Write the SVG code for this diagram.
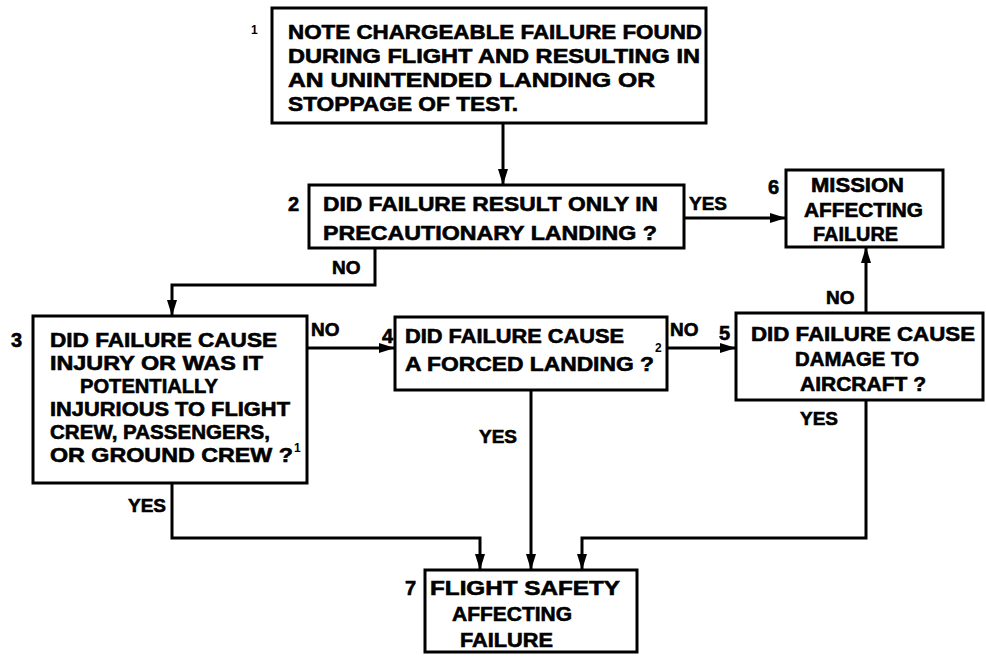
<svg xmlns="http://www.w3.org/2000/svg" width="986" height="657" viewBox="0 0 986 657">
<style>
.box{fill:#fff;stroke:#000;stroke-width:3}
.t{font-family:"Liberation Sans",Arial,sans-serif;font-weight:bold;font-size:20px;fill:#000;stroke:#000;stroke-width:0.6}
.lbl{font-family:"Liberation Sans",Arial,sans-serif;font-weight:bold;font-size:19px;fill:#000;stroke:#000;stroke-width:0.6}
.sup{font-family:"Liberation Sans",Arial,sans-serif;font-weight:bold;font-size:12px;fill:#000}
.c{fill:none;stroke:#000;stroke-width:3}
</style>
<defs>
<marker id="ah" markerUnits="userSpaceOnUse" markerWidth="16" markerHeight="12" refX="15" refY="6" orient="auto">
<path d="M0,1 L16,6 L0,11 z" fill="#000"/>
</marker>
</defs>
<rect width="986" height="657" fill="#fff"/>
<g id="connectors">
<path class="c" d="M503,123 V184" marker-end="url(#ah)"/>
<path class="c" d="M684,218 H785" marker-end="url(#ah)"/>
<path class="c" d="M375,248 V285 H172 V315" marker-end="url(#ah)"/>
<path class="c" d="M307,348 H394" marker-end="url(#ah)"/>
<path class="c" d="M667,348 H735" marker-end="url(#ah)"/>
<path class="c" d="M866,313 V248" marker-end="url(#ah)"/>
<path class="c" d="M172,483 V538 H480 V569" marker-end="url(#ah)"/>
<path class="c" d="M531,390 V569" marker-end="url(#ah)"/>
<path class="c" d="M866,400 V538 H582 V569" marker-end="url(#ah)"/>
<text class="lbl" x="689" y="210">YES</text>
<text class="lbl" x="332" y="274">NO</text>
<text class="lbl" x="311" y="336">NO</text>
<text class="lbl" x="670" y="336">NO</text>
<text class="lbl" x="826" y="304">NO</text>
<text class="lbl" x="479" y="443">YES</text>
<text class="lbl" x="800" y="425">YES</text>
<text class="lbl" x="128" y="512">YES</text>
</g>
<g id="n1">
<rect class="box" x="272" y="8" width="434" height="115"/>
<text class="sup" x="251" y="34">1</text>
<text class="t" x="288" y="39" textLength="414" lengthAdjust="spacingAndGlyphs">NOTE CHARGEABLE FAILURE FOUND</text>
<text class="t" x="288" y="63" textLength="412" lengthAdjust="spacingAndGlyphs">DURING FLIGHT AND RESULTING IN</text>
<text class="t" x="288" y="87" textLength="367" lengthAdjust="spacingAndGlyphs">AN UNINTENDED LANDING OR</text>
<text class="t" x="288" y="111" textLength="230" lengthAdjust="spacingAndGlyphs">STOPPAGE OF TEST.</text>
</g>
<g id="n2">
<rect class="box" x="309" y="185" width="375" height="63"/>
<text class="t" x="288" y="211">2</text>
<text class="t" x="323" y="211" textLength="335" lengthAdjust="spacingAndGlyphs">DID FAILURE RESULT ONLY IN</text>
<text class="t" x="323" y="240" textLength="334" lengthAdjust="spacingAndGlyphs">PRECAUTIONARY LANDING ?</text>
</g>
<g id="n3">
<rect class="box" x="33" y="316" width="274" height="167"/>
<text class="t" x="11" y="347">3</text>
<text class="t" x="50" y="347" textLength="227" lengthAdjust="spacingAndGlyphs">DID FAILURE CAUSE</text>
<text class="t" x="50" y="370" textLength="213" lengthAdjust="spacingAndGlyphs">INJURY OR WAS IT</text>
<text class="t" x="80" y="393" textLength="138" lengthAdjust="spacingAndGlyphs">POTENTIALLY</text>
<text class="t" x="50" y="416" textLength="240" lengthAdjust="spacingAndGlyphs">INJURIOUS TO FLIGHT</text>
<text class="t" x="50" y="439" textLength="220" lengthAdjust="spacingAndGlyphs">CREW, PASSENGERS,</text>
<text class="t" x="50" y="462" textLength="243" lengthAdjust="spacingAndGlyphs">OR GROUND CREW ?</text>
<text class="sup" x="294" y="452">1</text>
</g>
<g id="n4">
<rect class="box" x="395" y="317" width="272" height="73"/>
<text class="t" x="382" y="343" font-size="17">4</text>
<text class="t" x="405" y="343" textLength="219" lengthAdjust="spacingAndGlyphs">DID FAILURE CAUSE</text>
<text class="t" x="405" y="371" textLength="249" lengthAdjust="spacingAndGlyphs">A FORCED LANDING ?</text>
<text class="sup" x="655" y="352">2</text>
</g>
<g id="n5">
<rect class="box" x="736" y="313" width="247" height="87"/>
<text class="t" x="719" y="340">5</text>
<text class="t" x="751" y="341" textLength="224" lengthAdjust="spacingAndGlyphs">DID FAILURE CAUSE</text>
<text class="t" x="795" y="366" textLength="124" lengthAdjust="spacingAndGlyphs">DAMAGE TO</text>
<text class="t" x="800" y="391" textLength="126" lengthAdjust="spacingAndGlyphs">AIRCRAFT ?</text>
</g>
<g id="n6">
<rect class="box" x="786" y="170" width="157" height="77"/>
<text class="t" x="768" y="194">6</text>
<text class="t" x="811" y="192" textLength="93" lengthAdjust="spacingAndGlyphs">MISSION</text>
<text class="t" x="804" y="217" textLength="119" lengthAdjust="spacingAndGlyphs">AFFECTING</text>
<text class="t" x="813" y="241" textLength="85" lengthAdjust="spacingAndGlyphs">FAILURE</text>
</g>
<g id="n7">
<rect class="box" x="425" y="570" width="212" height="82"/>
<text class="t" x="405" y="595">7</text>
<text class="t" x="430" y="595" textLength="190" lengthAdjust="spacingAndGlyphs">FLIGHT SAFETY</text>
<text class="t" x="452" y="621" textLength="120" lengthAdjust="spacingAndGlyphs">AFFECTING</text>
<text class="t" x="460" y="647" textLength="93" lengthAdjust="spacingAndGlyphs">FAILURE</text>
</g>
</svg>
